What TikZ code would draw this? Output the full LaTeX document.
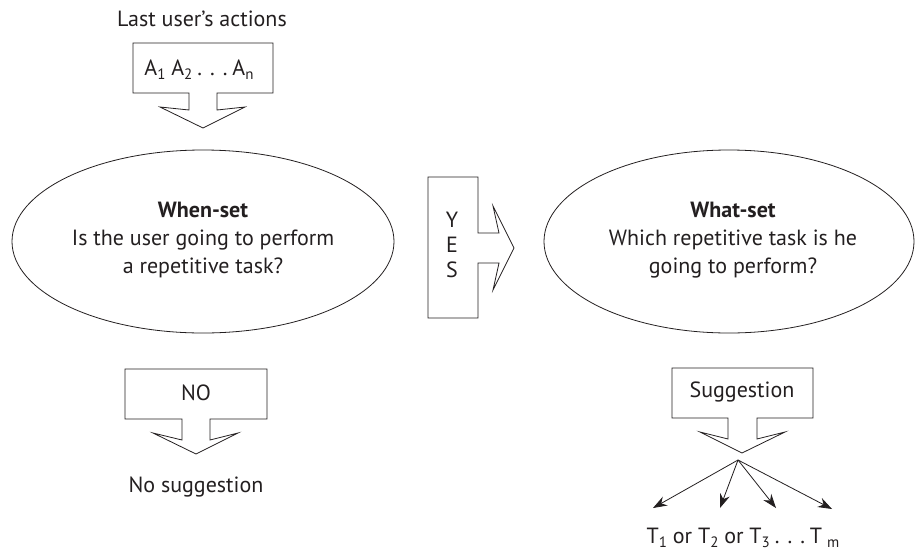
\documentclass[tikz,border=0pt]{standalone}
\usepackage{fontspec}
\setmainfont{PT Sans}
\usetikzlibrary{shapes.geometric,arrows.meta}
\definecolor{ink}{HTML}{231F20}
\newcommand{\sbx}[1]{\raisebox{-0.35ex}{\fontsize{15}{15}\selectfont #1}}
\newcommand{\dts}{\hspace{5pt}.\hspace{8pt}.\hspace{8pt}.\hspace{5pt}}
\tikzset{
  line/.style={draw=ink, line width=0.8pt, line join=miter},
  txt/.style={text=ink, font=\fontsize{22}{28}\selectfont, inner sep=0pt, align=center},
  oval/.style={draw=ink, line width=0.8pt, ellipse, inner sep=0pt},
  fan/.style={draw=ink, line width=0.8pt, -{Stealth[length=14pt,width=10pt]}}
}
\begin{document}
\begin{tikzpicture}[x=1pt,y=-1pt]
\useasboundingbox (0,0) rectangle (915,557);

% top
\node[txt] (last) at (202,19) {Last user’s actions};
\path[line] (133,43) -- (273,43) -- (273,93) -- (217,93) -- (217,110) -- (245,107) -- (203,128) -- (160,107) -- (189,110) -- (189,93) -- (133,93) -- cycle;
\node[txt] (acts) at (199,70) {A\sbx{1} A\sbx{2}\dts A\sbx{n}};

% when-set
\node[oval, minimum width=382pt, minimum height=183pt] (when) at (203,241.5) {};
\node[txt] (whent) at (203,240) {\textbf{When-set}\\Is the user going to perform\\a repetitive task?};

% yes arrow
\path[line] (428,177) -- (478,177) -- (478,233) -- (499,233) -- (493,206) -- (514,248) -- (493,290) -- (499,263) -- (478,263) -- (478,318) -- (428,318) -- cycle;
\node[txt, font=\fontsize{22}{25}\selectfont] (yes) at (452,245) {Y\\E\\S};

% what-set
\node[oval, minimum width=370pt, minimum height=183pt] (what) at (729,241.5) {};
\node[txt] (whatt) at (733,240) {\textbf{What-set}\\Which repetitive task is he\\going to perform?};

% no
\path[line] (125,369) -- (267,369) -- (267,419) -- (210,419) -- (210,440) -- (238,433) -- (196,454) -- (153,433) -- (182,440) -- (182,419) -- (125,419) -- cycle;
\node[txt] (no) at (196,393) {NO};
\node[txt] (nosug) at (196,487) {No suggestion};

% suggestion
\path[line] (672,368) -- (813,368) -- (813,418) -- (757,418) -- (757,439) -- (785,432) -- (742,453) -- (700,432) -- (728,439) -- (728,418) -- (672,418) -- cycle;
\node[txt] (sug) at (742,392) {Suggestion};

\coordinate (hub) at (738,460);
\coordinate (t1) at (653,508);
\coordinate (t2) at (720,508);
\coordinate (t3) at (776,508);
\coordinate (t4) at (832,509);
\draw[fan] (hub) -- (t1);
\draw[fan] (hub) -- (t2);
\draw[fan] (hub) -- (t3);
\draw[fan] (hub) -- (t4);
\node[txt] (tasks) at (743,538) {T\sbx{1} or T\sbx{2} or T\sbx{3}\dts T\hspace{5pt}\sbx{m}};
\end{tikzpicture}
\end{document}
